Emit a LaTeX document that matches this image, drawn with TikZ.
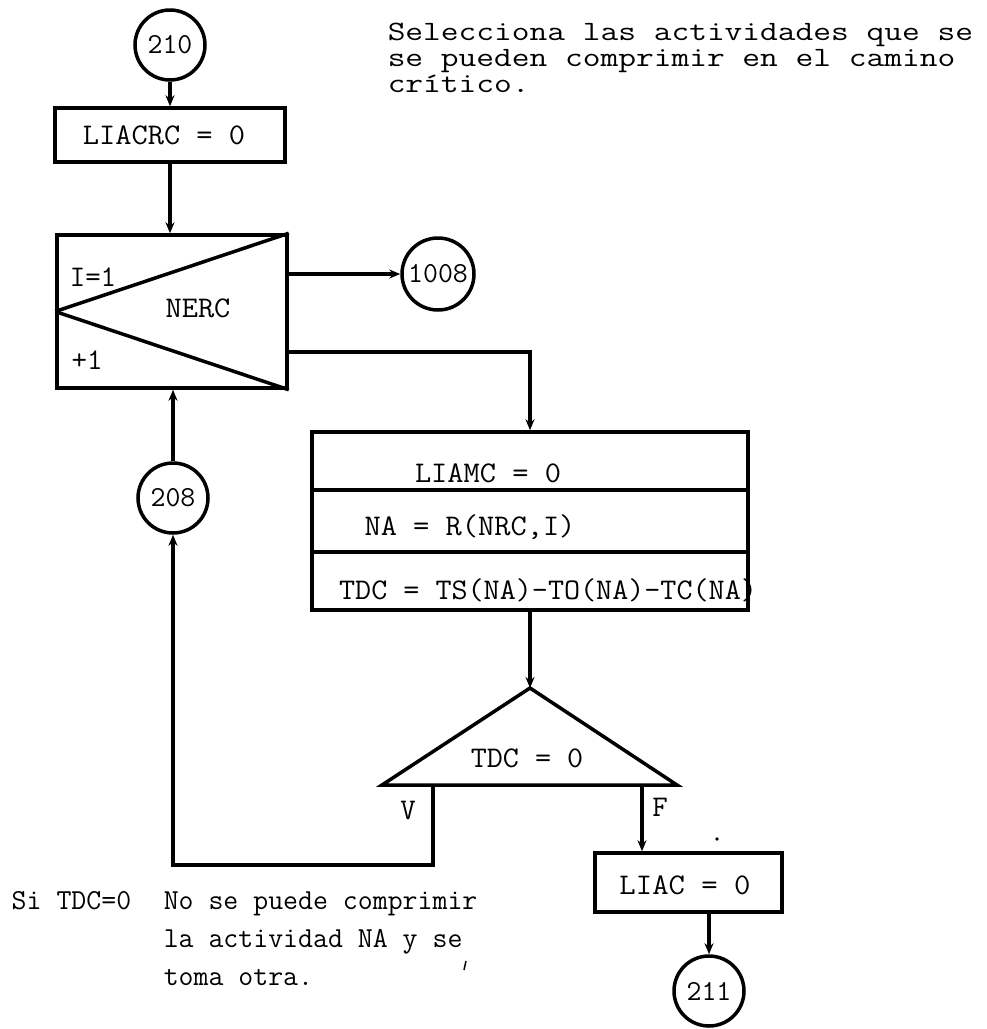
\documentclass[tikz,border=0pt]{standalone}
\usepackage{fontspec}
\usepackage{graphicx}
\usetikzlibrary{arrows.meta}
\newcommand{\myxs}[2]{\scalebox{#1}[1]{#2}}
\begin{document}
\begin{tikzpicture}[x=1pt,y=-1pt,
  line width=3.5pt,
  arr/.style={-{Stealth[length=11pt,width=9pt]}},
  procbox/.style={draw,rectangle,inner sep=0pt},
  conn/.style={draw,circle,inner sep=0pt,minimum size=70pt,font=\ttfamily\fontsize{29}{34}\selectfont},
  lbl/.style={inner sep=0pt,font=\ttfamily\fontsize{30}{34}\selectfont},
  note/.style={inner sep=0pt,anchor=base west,font=\ttfamily\fontsize{28}{26}\selectfont},
  bnote/.style={inner sep=0pt,anchor=base west,font=\ttfamily\fontsize{29}{38}\selectfont}]
\useasboundingbox (0,0) rectangle (987,1029);

% connectors (circles)
\node[conn] (c210) at (170,45) {210};
\node[conn,minimum size=72pt] (c1008) at (438,274) {1008};
\node[conn] (c208) at (173,498) {208};
\node[conn] (c211) at (709,991) {211};

% LIACRC box
\node[procbox,minimum width=230pt,minimum height=54pt] (b1) at (170,135) {};
\node[lbl] (b1t) at (164,135) {\myxs{1.05}{LIACRC = 0}};

% loop box
\node[procbox,minimum width=230pt,minimum height=153pt] (loop) at (172,311.5) {};
\draw (loop.west) -- (loop.north east);
\draw (loop.west) -- (loop.south east);
\node[lbl] (li) at (93,277) {I=1};
\node[lbl] (ln) at (198,308) {\myxs{1.05}{NERC}};
\node[lbl] (lp) at (87,360) {+1};

% big process box
\node[procbox,minimum width=436pt,minimum height=178pt] (big) at (530,521) {};
\draw (312,490) -- (748,490);
\draw (312,552) -- (748,552);
\node[lbl] (g1) at (488,473) {\myxs{1.05}{LIAMC = 0}};
\node[lbl] (g2) at (470,527) {\myxs{1.05}{NA = R(NRC,I)}};
\node[lbl] (g3) at (548,590) {\myxs{1.04}{TDC = TS(NA)-TO(NA)-TC(NA)}};

% decision triangle
\coordinate (tA) at (530,688);
\coordinate (tL) at (382,785);
\coordinate (tR) at (677,785);
\coordinate (tV) at (433,785);
\coordinate (tF) at (642,785);
\coordinate (lpc) at (433,865);
\draw[line join=miter] (tA) -- (tL) -- (tR) -- cycle;
\node[lbl] (dt) at (527,758) {\myxs{1.04}{TDC = 0}};
\node[lbl] (dv) at (408,810) {V};
\node[lbl] (df) at (660,807) {F};

% LIAC box
\node[procbox,minimum width=187pt,minimum height=59pt] (liac) at (688.5,882.5) {};
\node[lbl] (liact) at (685,885) {\myxs{1.06}{LIAC = 0}};

% arrows
\draw[arr] (c210.south -| b1.north) -- (b1.north);
\draw[arr] (b1.south) -- (b1.south |- loop.north);
\draw[arr] (loop.east |- c1008.west) -- (c1008.west);
\draw[arr] (loop.east |- {(0,352)}) -| (big.north);
\draw[arr] (big.south) -- (tA);
\draw[arr] (tV) -- (lpc) -| (c208.south);
\draw[arr] (c208.north) -- (c208.north |- loop.south);
\draw[arr] (tF) -- (tF |- liac.north);
\draw[arr] (liac.south -| c211.north) -- (c211.north);

% notes
\node[note] (n1) at (386,40) {\myxs{1.23}{Selecciona las actividades que se}};
\node[note] (n2) at (386,66) {\myxs{1.23}{se pueden comprimir en el camino}};
\node[note] (n3) at (386,92) {\myxs{1.23}{crítico.}};

\node[bnote] (m0) at (10,909) {Si TDC=0};
\node[bnote] (m1) at (162,909) {No se puede comprimir};
\node[bnote] (m2) at (162,947) {la actividad NA y se};
\node[bnote] (m3) at (162,985) {toma otra.};

% stray marks of the scan
\fill (717,839) circle (1.8pt);
\draw[line width=1.5pt] (466,961) -- (464,970);
\end{tikzpicture}
\end{document}
